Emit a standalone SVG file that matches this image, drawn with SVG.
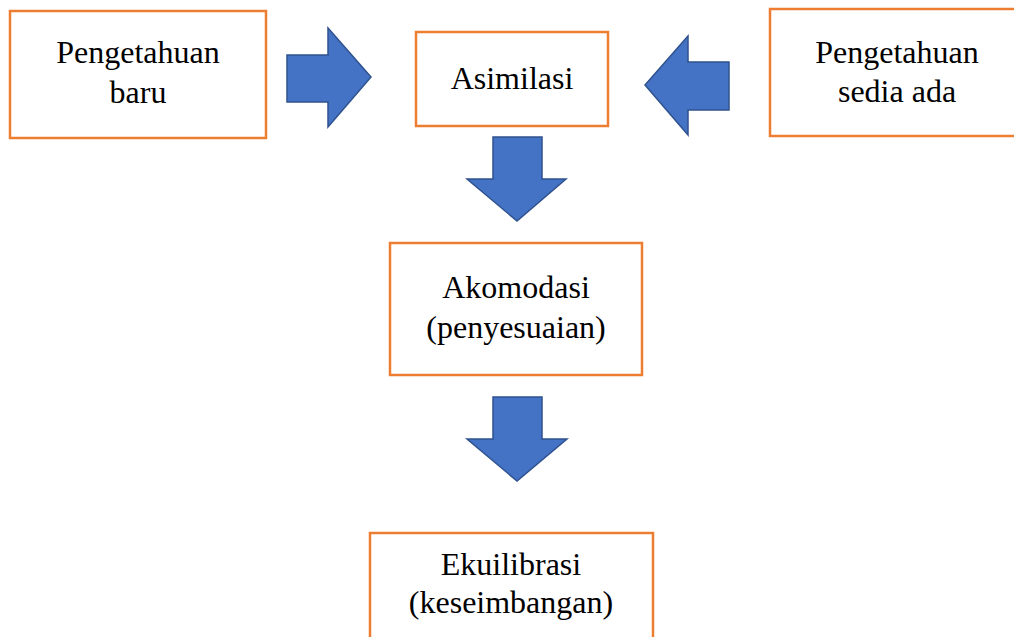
<svg xmlns="http://www.w3.org/2000/svg" width="1014" height="637" viewBox="0 0 1014 637">
<style>
.box{fill:#fff;stroke:#ED7D31;stroke-width:2.5}
.arr{fill:#4472C4;stroke:#2F528F;stroke-width:1.5;stroke-linejoin:miter}
.t{font-family:Liberation Serif,serif;font-size:32px;fill:#000;text-anchor:middle}
</style>
<rect width="1014" height="637" fill="#fff"/>
<g id="n1"><rect class="box" x="10" y="11" width="256" height="127"/><text class="t" x="138" y="63">Pengetahuan</text><text class="t" x="138" y="103">baru</text></g>
<g id="n2"><rect class="box" x="416" y="32" width="192" height="94"/><text class="t" x="512" y="89">Asimilasi</text></g>
<g id="n3"><rect class="box" x="770" y="9" width="250" height="127"/><text class="t" x="897" y="63">Pengetahuan</text><text class="t" x="897" y="102">sedia ada</text></g>
<g id="n4"><rect class="box" x="390" y="243" width="252" height="132"/><text class="t" x="516" y="298">Akomodasi</text><text class="t" x="516" y="338">(penyesuaian)</text></g>
<g id="n5"><rect class="box" x="370" y="533" width="283" height="110"/><text class="t" x="511" y="575">Ekuilibrasi</text><text class="t" x="511" y="613">(keseimbangan)</text></g>
<g id="connectors">
<polygon class="arr" points="287,55 328,55 328,28 371,77 328,127 328,102 287,102"/>
<polygon class="arr" points="729,62 688,62 688,36 645,85 688,135 688,110 729,110"/>
<polygon class="arr" points="493,137 542,137 542,179 566,179 517,221 467,179 493,179"/>
<polygon class="arr" points="493,397 542,397 542,439 567,439 517,481 467,439 493,439"/>
</g>
</svg>
